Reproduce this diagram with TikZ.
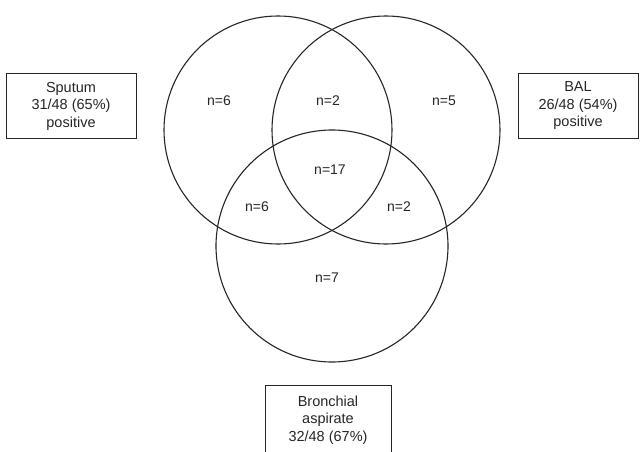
\documentclass[tikz,border=0pt]{standalone}
\usepackage{fontspec}
\setmainfont{Liberation Sans}
\begin{document}
\begin{tikzpicture}[x=1pt,y=-1pt,
  setc/.style={circle,draw=black!85,line width=1.1pt,inner sep=0pt},
  lbl/.style={font=\fontsize{14}{16}\selectfont,text=black!85},
  infobox/.style={draw=black!85,line width=0.8pt,fill=white,align=center,
    font=\fontsize{14.5}{17.5}\selectfont,text=black!85,inner sep=0pt}]
\useasboundingbox (0,0) rectangle (643,452);
\clip (0,0) rectangle (643,452);
\fill[white] (0,0) rectangle (643,452);
% circles
\node[setc,minimum size=228pt] (sp) at (278,130) {};
\node[setc,minimum size=228pt] (bal) at (386,130) {};
\node[setc,minimum size=232pt] (br) at (332,246) {};
% counts
\node[lbl] (n1) at (219,101) {n=6};
\node[lbl] (n2) at (328,101) {n=2};
\node[lbl] (n3) at (444,101) {n=5};
\node[lbl] (n4) at (330,170) {n=17};
\node[lbl] (n5) at (257,207) {n=6};
\node[lbl] (n6) at (399,207) {n=2};
\node[lbl] (n7) at (327,278) {n=7};
% boxes
\node[infobox,minimum width=130pt,minimum height=65pt] (bsp) at (71,106) {Sputum\\31/48 (65\%)\\positive};
\node[infobox,minimum width=120pt,minimum height=65pt] (bbal) at (578,106) {BAL\\26/48 (54\%)\\positive};
\node[infobox,minimum width=126pt,minimum height=70pt] (bbr) at (328,420) {Bronchial\\aspirate\\32/48 (67\%)};
\end{tikzpicture}
\end{document}
